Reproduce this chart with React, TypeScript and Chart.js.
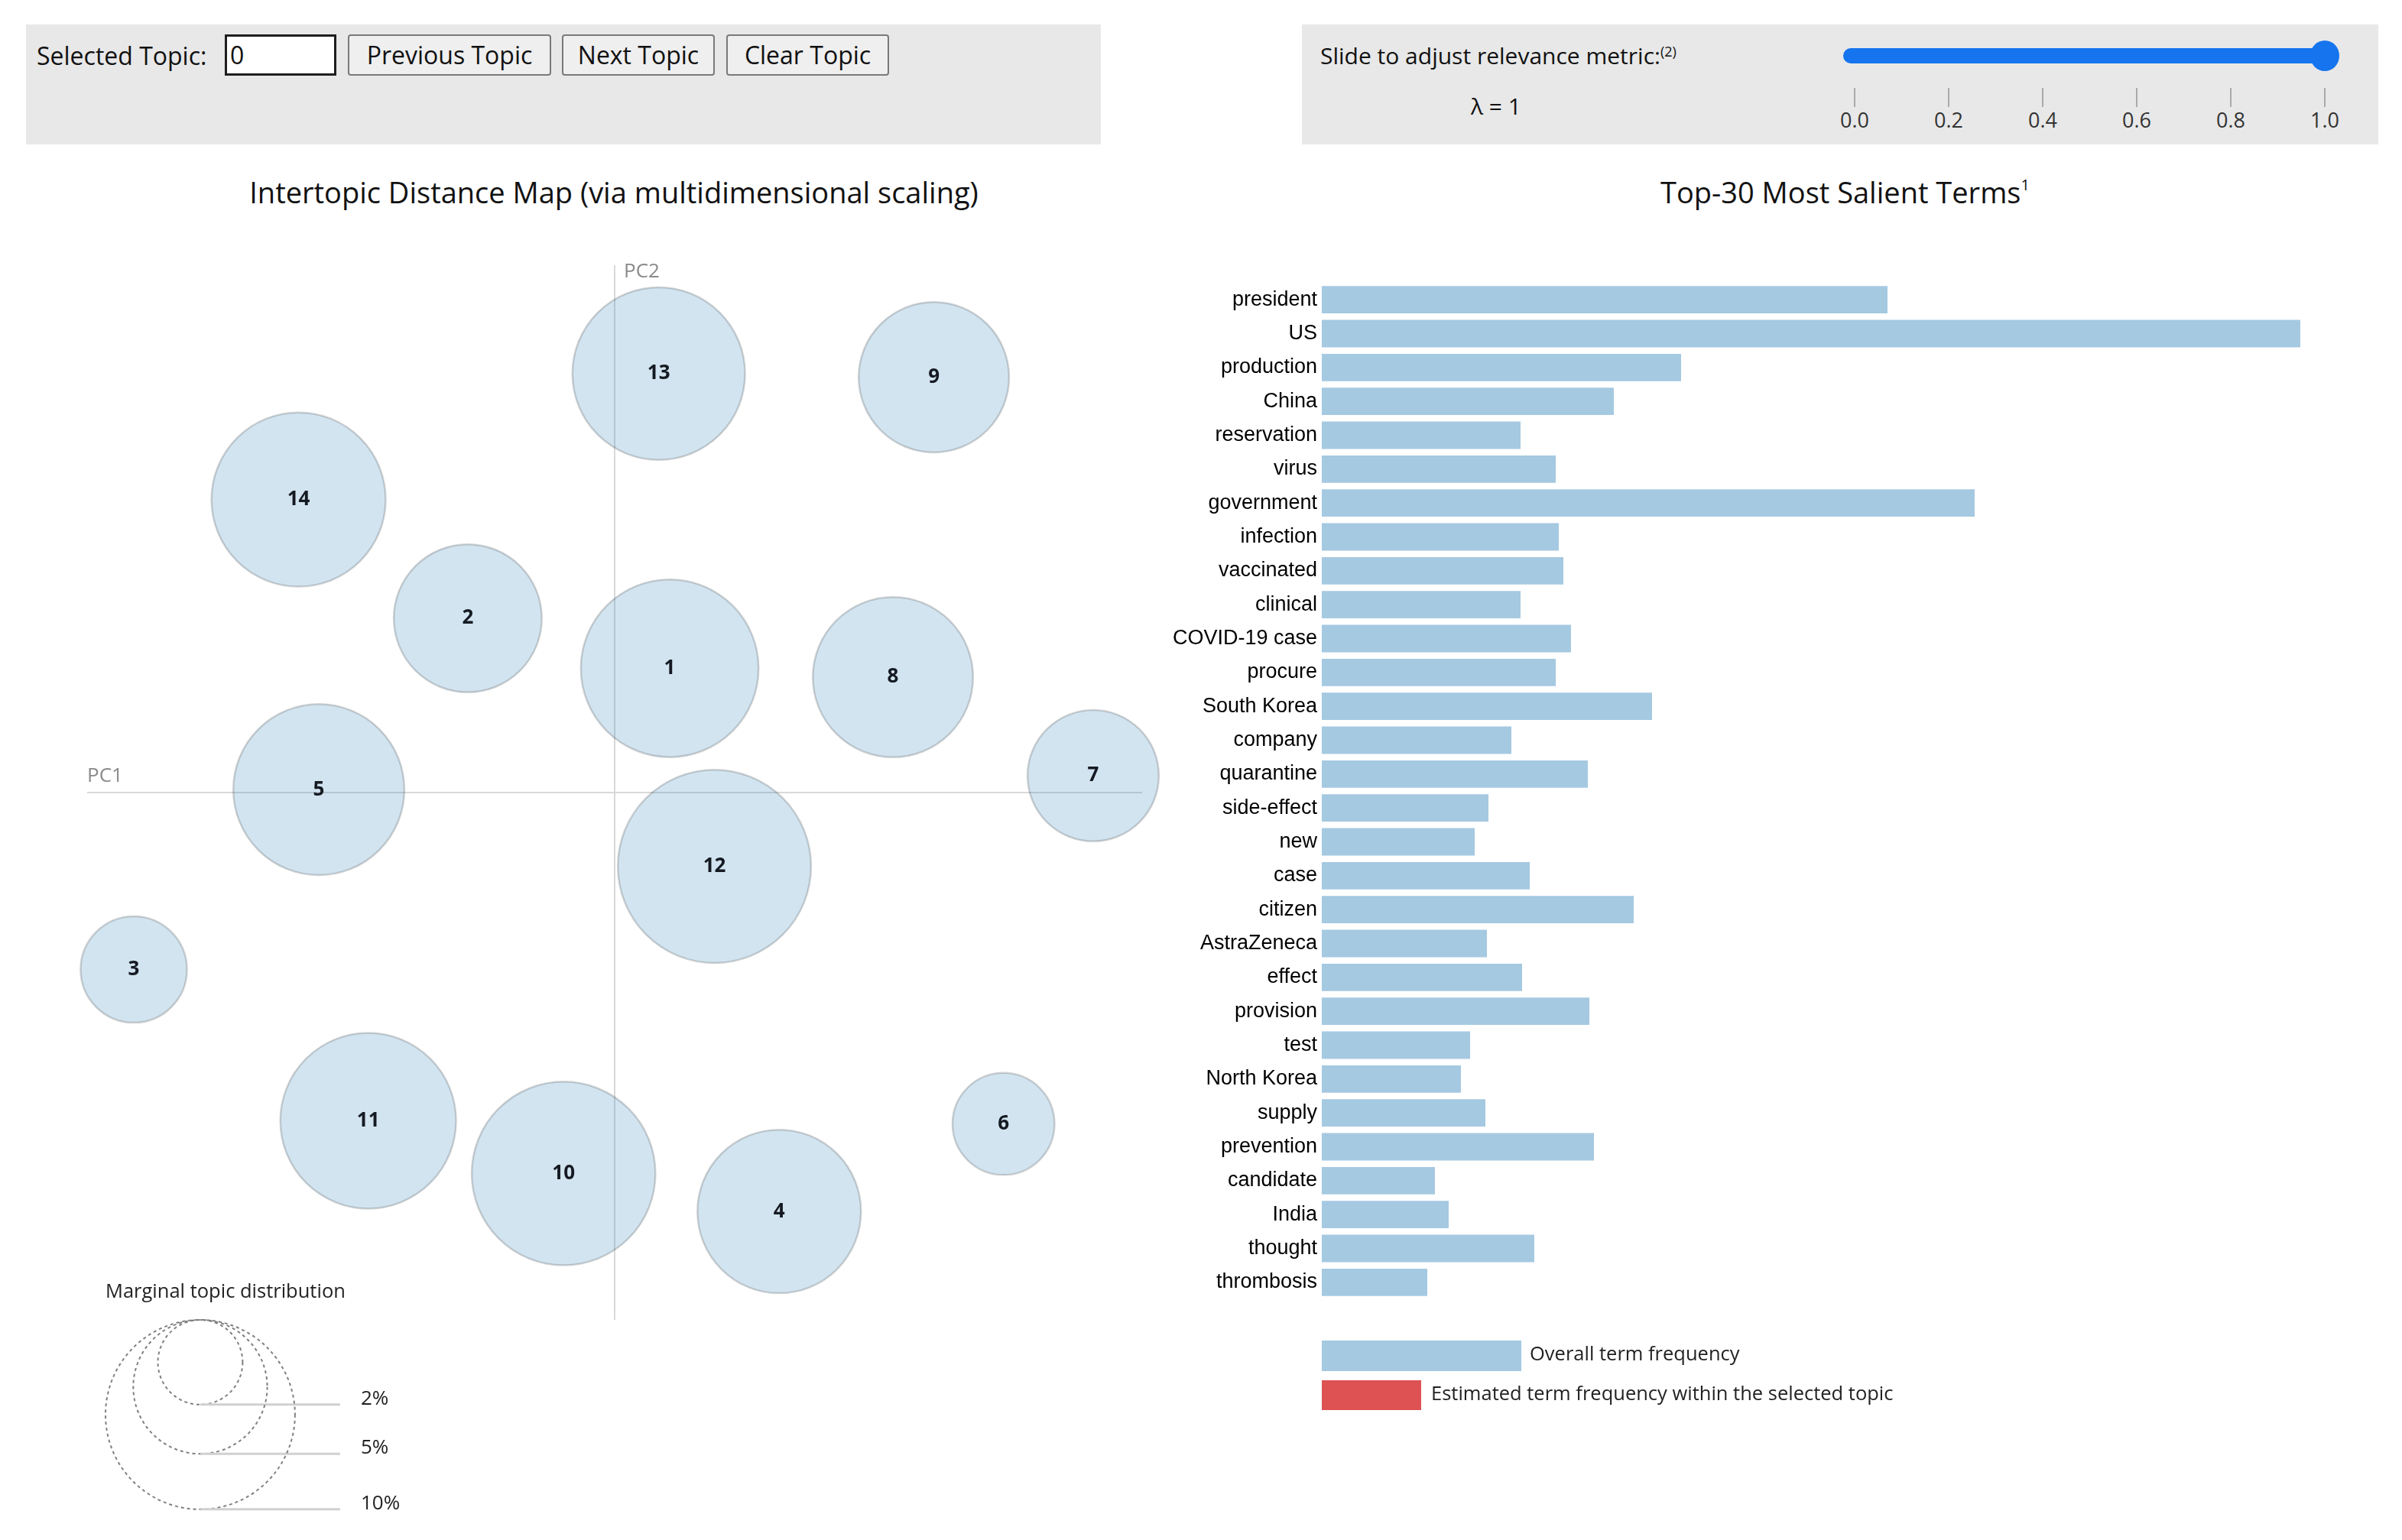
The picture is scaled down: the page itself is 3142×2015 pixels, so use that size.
import React, { useEffect, useRef } from "react";
import { Chart, registerables } from "chart.js";

Chart.register(...registerables);

// ---------- data ----------
const topicLabels = ["1", "2", "3", "4", "5", "6", "7", "8", "9", "10", "11", "12", "13", "14"];
const topicPC1 = [0.0261, -0.0696, -0.2279, 0.078, -0.1402, 0.1843, 0.2268, 0.1319, 0.1513, -0.0242, -0.1168, 0.0473, 0.0209, -0.1498];
const topicPC2 = [0.0589, 0.0826, -0.0839, -0.1986, 0.0014, -0.1571, 0.008, 0.0547, 0.1969, -0.1806, -0.1556, -0.035, 0.1986, 0.1389];
const topicFreq = [8.8, 6.1, 3.15, 7.45, 8.15, 2.9, 4.8, 7.15, 6.3, 9.4, 8.6, 10.4, 8.3, 8.45]; // % of tokens
const legendFreq = [2, 5, 10];
const legendLabels = ["2%", "5%", "10%"];

const terms = [
  "president", "US", "production", "China", "reservation", "virus", "government", "infection",
  "vaccinated", "clinical", "COVID-19 case", "procure", "South Korea", "company", "quarantine",
  "side-effect", "new", "case", "citizen", "AstraZeneca", "effect", "provision", "test",
  "North Korea", "supply", "prevention", "candidate", "India", "thought", "thrombosis",
];
const termFreq = [
  1850, 3200, 1175, 955, 650, 765, 2135, 775,
  790, 650, 815, 765, 1080, 620, 870,
  545, 500, 680, 1020, 540, 655, 875, 485,
  455, 535, 890, 370, 415, 695, 345,
];

const sliderTicks = [0, 0.2, 0.4, 0.6, 0.8, 1.0];
const sliderTickLabels = ["0.0", "0.2", "0.4", "0.6", "0.8", "1.0"];
const lambdaValue = 1;

// radius (data units of the PC axes) per sqrt(%) of marginal frequency
const RADIUS_PER_SQRT_PCT = 0.0142;

const FONT = '"Open Sans", "DejaVu Sans", sans-serif';
const BAR_FONT = '"Liberation Sans", Arial, sans-serif';

// ---------- helpers ----------
function radiusPx(chart: any, pct: number): number {
  const xs = chart.scales && chart.scales.x;
  if (!xs) return 0;
  return Math.abs(xs.getPixelForValue(RADIUS_PER_SQRT_PCT * Math.sqrt(pct)) - xs.getPixelForValue(0));
}

const mdsPlugin = {
  id: "mdsDecor",
  beforeDatasetsDraw(chart: any) {
    const { ctx, chartArea, scales } = chart;
    const x0 = scales.x.getPixelForValue(0);
    const y0 = scales.y.getPixelForValue(0);
    ctx.save();
    ctx.strokeStyle = "rgba(0,0,0,0.15)";
    ctx.lineWidth = 2;
    ctx.beginPath();
    ctx.moveTo(x0, chartArea.top);
    ctx.lineTo(x0, chartArea.bottom);
    ctx.moveTo(chartArea.left, y0);
    ctx.lineTo(chartArea.right, y0);
    ctx.stroke();
    ctx.fillStyle = "#8a8a8a";
    ctx.font = `26px ${FONT}`;
    ctx.textAlign = "left";
    ctx.textBaseline = "alphabetic";
    ctx.fillText("PC1", chartArea.left, y0 - 14);
    ctx.fillText("PC2", x0 + 12, chartArea.top + 16);
    ctx.restore();
  },
  afterDatasetsDraw(chart: any) {
    const { ctx, chartArea } = chart;
    const meta = chart.getDatasetMeta(0);
    ctx.save();
    ctx.fillStyle = "#151a22";
    ctx.font = `bold 26px ${FONT}`;
    ctx.textAlign = "center";
    ctx.textBaseline = "middle";
    meta.data.forEach((el: any, i: number) => {
      ctx.fillText(topicLabels[i], el.x, el.y);
    });

    // marginal topic distribution legend
    const maxR = radiusPx(chart, Math.max(...legendFreq));
    const cx = chartArea.left + 24 + maxR;
    const top = chartArea.bottom;
    ctx.fillStyle = "#222";
    ctx.font = `25.5px ${FONT}`;
    ctx.textAlign = "left";
    ctx.fillText("Marginal topic distribution", chartArea.left + 24, top - 36);
    legendFreq.forEach((p, i) => {
      const r = radiusPx(chart, p);
      ctx.setLineDash([4, 4]);
      ctx.strokeStyle = "#808080";
      ctx.lineWidth = 2;
      ctx.beginPath();
      ctx.arc(cx, top + r, r, 0, Math.PI * 2);
      ctx.stroke();
      ctx.setLineDash([]);
      ctx.strokeStyle = "#d0d0d0";
      ctx.lineWidth = 3;
      ctx.beginPath();
      ctx.moveTo(cx, top + 2 * r);
      ctx.lineTo(cx + 183, top + 2 * r);
      ctx.stroke();
      ctx.fillStyle = "#222";
      ctx.font = `26px ${FONT}`;
      ctx.textBaseline = "alphabetic";
      ctx.fillText(legendLabels[i], cx + 210, top + 2 * r);
    });
    ctx.restore();
  },
};

const barLegendPlugin = {
  id: "barLegend",
  afterDraw(chart: any) {
    const { ctx, chartArea } = chart;
    const left = chartArea.left;
    const b = chartArea.bottom;
    ctx.save();
    ctx.fillStyle = "rgba(31,119,180,0.4)";
    ctx.fillRect(left, b + 54, 261, 40);
    ctx.fillStyle = "rgba(214,39,40,0.8)";
    ctx.fillRect(left, b + 106, 130, 39);
    ctx.fillStyle = "#222";
    ctx.font = `25.5px ${FONT}`;
    ctx.textAlign = "left";
    ctx.textBaseline = "middle";
    ctx.fillText("Overall term frequency", left + 272, b + 73);
    ctx.fillText("Estimated term frequency within the selected topic", left + 143, b + 125);
    ctx.restore();
  },
};

function MdsChart() {
  const ref = useRef<HTMLCanvasElement | null>(null);
  useEffect(() => {
    if (!ref.current) return;
    const chart = new Chart(ref.current, {
      type: "scatter",
      data: {
        datasets: [
          {
            data: topicLabels.map((_, i) => ({ x: topicPC1[i], y: topicPC2[i], p: topicFreq[i] })) as any,
            pointBackgroundColor: "rgba(31,119,180,0.2)",
            pointBorderColor: "rgba(0,0,0,0.17)",
            pointBorderWidth: 2.5,
            pointRadius: (c: any) => (c.raw ? radiusPx(c.chart, c.raw.p) : 0),
            pointHoverRadius: (c: any) => (c.raw ? radiusPx(c.chart, c.raw.p) : 0),
            clip: false as any,
          } as any,
        ],
      },
      options: {
        animation: false,
        responsive: true,
        maintainAspectRatio: false,
        events: [],
        layout: { padding: { left: 114, right: 36, top: 47, bottom: 288 } },
        plugins: { legend: { display: false }, tooltip: { enabled: false } },
        scales: {
          x: { type: "linear", display: false, min: -0.25, max: 0.25 },
          y: { type: "linear", display: false, min: -0.25, max: 0.25 },
        },
      },
      plugins: [mdsPlugin],
    });
    return () => chart.destroy();
  }, []);
  return (
    <div style={{ position: "absolute", left: 0, top: 300, width: 1530, height: 1715 }}>
      <canvas ref={ref} />
    </div>
  );
}

function TermChart() {
  const ref = useRef<HTMLCanvasElement | null>(null);
  useEffect(() => {
    if (!ref.current) return;
    const chart = new Chart(ref.current, {
      type: "bar",
      data: {
        labels: terms,
        datasets: [
          {
            data: termFreq,
            backgroundColor: "rgba(31,119,180,0.4)",
            borderWidth: 0,
            barPercentage: 0.81,
            categoryPercentage: 1,
          },
        ],
      },
      options: {
        indexAxis: "y",
        animation: false,
        responsive: true,
        maintainAspectRatio: false,
        events: [],
        layout: { padding: { left: 0, right: 13, top: 30, bottom: 315 } },
        plugins: { legend: { display: false }, tooltip: { enabled: false } },
        scales: {
          x: { display: false, min: 0, max: 3500 },
          y: {
            grid: { display: false, drawTicks: false },
            border: { display: false },
            ticks: {
              autoSkip: false,
              padding: 6,
              color: "#000",
              font: { family: BAR_FONT, size: 27 },
            },
            afterFit: (s: any) => {
              s.width = 249;
            },
          },
        },
      },
      plugins: [barLegendPlugin],
    });
    return () => chart.destroy();
  }, []);
  return (
    <div style={{ position: "absolute", left: 1480, top: 340, width: 1662, height: 1675 }}>
      <canvas ref={ref} />
    </div>
  );
}

function Text(props: { left: number; cy: number; size: number; children: any; color?: string; lh?: number }) {
  const lh = props.lh ?? Math.round(props.size * 1.4);
  return (
    <div
      style={{
        position: "absolute",
        left: props.left,
        top: props.cy - lh / 2,
        height: lh,
        lineHeight: `${lh}px`,
        fontSize: props.size,
        color: props.color ?? "#111",
        whiteSpace: "nowrap",
        fontFamily: FONT,
      }}
    >
      {props.children}
    </div>
  );
}

const buttonStyle = (left: number, width: number): React.CSSProperties => ({
  position: "absolute",
  left,
  top: 45,
  width,
  height: 54,
  boxSizing: "border-box",
  background: "#efefef",
  border: "2px solid #7a7a7a",
  borderRadius: 4,
  fontFamily: FONT,
  fontSize: 32,
  color: "#111",
  lineHeight: "50px",
  textAlign: "center",
  whiteSpace: "nowrap",
});

export default function App() {
  const sL = 2426;
  const sR = 3041;
  const tickX = (v: number) => sL + ((v - sliderTicks[0]) / (sliderTicks[sliderTicks.length - 1] - sliderTicks[0])) * (sR - sL);
  const thumbX = tickX(lambdaValue);
  return (
    <div
      style={{
        position: "absolute",
        left: 0,
        top: 0,
        width: 3142,
        height: 2015,
        background: "#fff",
        overflow: "hidden",
        fontFamily: FONT,
      }}
    >
      {/* left control panel */}
      <div style={{ position: "absolute", left: 34, top: 32, width: 1406, height: 157, background: "#e8e8e8" }} />
      <Text left={48} cy={72} size={32}>Selected Topic:</Text>
      <div
        style={{
          position: "absolute",
          left: 294,
          top: 45,
          width: 146,
          height: 54,
          boxSizing: "border-box",
          background: "#fff",
          border: "3px solid #1e1e1e",
          fontFamily: FONT,
          fontSize: 32,
          lineHeight: "48px",
          paddingLeft: 4,
          color: "#111",
        }}
      >
        0
      </div>
      <div style={buttonStyle(455, 266)}>Previous Topic</div>
      <div style={buttonStyle(735, 200)}>Next Topic</div>
      <div style={buttonStyle(950, 213)}>Clear Topic</div>

      {/* right control panel */}
      <div style={{ position: "absolute", left: 1703, top: 32, width: 1408, height: 157, background: "#e8e8e8" }} />
      <Text left={1727} cy={73} size={30}>
        Slide to adjust relevance metric:
        <span style={{ fontSize: 18, position: "relative", top: -10 }}>(2)</span>
      </Text>
      <Text left={1924} cy={139} size={30}>λ = {lambdaValue}</Text>
      <div
        style={{
          position: "absolute",
          left: 2411,
          top: 63,
          width: thumbX - 2411,
          height: 20,
          borderRadius: 10,
          background: "#1574ee",
        }}
      />
      <div
        style={{
          position: "absolute",
          left: thumbX - 19,
          top: 53,
          width: 38,
          height: 40,
          borderRadius: "50%",
          background: "#1574ee",
        }}
      />
      {sliderTicks.map((v, i) => (
        <React.Fragment key={i}>
          <div style={{ position: "absolute", left: tickX(v) - 1, top: 115, width: 2, height: 25, background: "#aaa" }} />
          <div
            style={{
              position: "absolute",
              left: tickX(v) - 40,
              width: 80,
              top: 138,
              height: 38,
              lineHeight: "38px",
              textAlign: "center",
              fontSize: 27,
              color: "#333",
              fontFamily: FONT,
            }}
          >
            {sliderTickLabels[i]}
          </div>
        </React.Fragment>
      ))}

      {/* titles */}
      <div
        style={{
          position: "absolute",
          left: 303,
          width: 1000,
          top: 225,
          height: 52,
          lineHeight: "52px",
          textAlign: "center",
          fontSize: 38,
          color: "#111",
          whiteSpace: "nowrap",
        }}
      >
        Intertopic Distance Map (via multidimensional scaling)
      </div>
      <Text left={2172} cy={251} size={38}>
        Top-30 Most Salient Terms
        <span style={{ fontSize: 20, position: "relative", top: -17 }}>1</span>
      </Text>

      <MdsChart />
      <TermChart />
    </div>
  );
}
